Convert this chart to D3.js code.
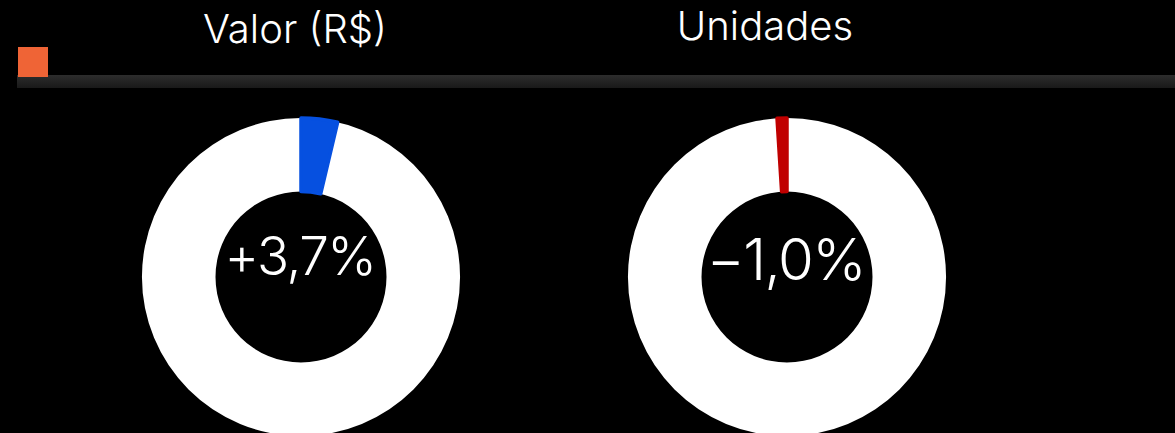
<!DOCTYPE html>
<html>
<head>
<meta charset="utf-8">
<script src="https://cdn.jsdelivr.net/npm/d3@7"></script>
<style>
  html, body { margin: 0; padding: 0; background: #000; overflow: hidden; }
  svg { display: block; }
  .title { font-family: Inter, "Open Sans", sans-serif; font-weight: 300; fill: #fff; }
  .value { font-family: Inter, "Open Sans", sans-serif; font-weight: 300; fill: #fff; letter-spacing: -1.5px; }
</style>
</head>
<body>
<script>
//chart data
var titles = ["Valor (R$)", "Unidades"];
var values = [3.7, -1.0];            //variation in percent
var labels = ["+3,7%", "\u22121,0%"];
var sliceColors = ["#0650e0", "#c00000"];

window.onload = function() {
  var w = 1175,
      h = 433;

  var svg = d3.select("body")
    .append("svg")
    .attr("width", w)
    .attr("height", h)
    .attr("class", "container");

  //vertical gradient for the grey header bar
  var grad = svg.append("defs").append("linearGradient")
    .attr("id", "barGrad")
    .attr("x1", 0).attr("y1", 0).attr("x2", 0).attr("y2", 1);
  grad.append("stop").attr("offset", "0%").attr("stop-color", "#2d2d2d");
  grad.append("stop").attr("offset", "100%").attr("stop-color", "#191919");

  svg.append("rect")
    .attr("x", 17).attr("y", 75)
    .attr("width", w - 17).attr("height", 13)
    .attr("fill", "url(#barGrad)");

  //orange marker
  svg.append("rect")
    .attr("x", 18).attr("y", 47)
    .attr("width", 30).attr("height", 30)
    .attr("fill", "#ef6436");

  //positions of each donut
  var cx = d3.scaleOrdinal().domain(titles).range([301, 787]);
  var titleX = d3.scaleOrdinal().domain(titles).range([295, 765]);
  var titleY = d3.scaleOrdinal().domain(titles).range([43, 40]);
  var labelSize = d3.scaleOrdinal().domain(titles).range([53, 58]);
  var labelY = d3.scaleOrdinal().domain(titles).range([275, 280]);
  var cy = 277;

  //percent -> angle
  var angle = d3.scaleLinear().domain([-100, 100]).range([-2 * Math.PI, 2 * Math.PI]);

  var ring = d3.arc().innerRadius(85.5).outerRadius(159);

  var data = titles.map(function(t, i) {
    return { title: t, value: values[i], label: labels[i], color: sliceColors[i] };
  });

  var g = svg.selectAll(".donut")
    .data(data)
    .enter()
    .append("g")
    .attr("class", "donut")
    .attr("transform", function(d) { return "translate(" + cx(d.title) + "," + cy + ")"; });

  //white full ring
  g.append("path")
    .attr("d", ring({ startAngle: 0, endAngle: 2 * Math.PI }))
    .attr("fill", "#fff");

  //variation slice
  g.append("path")
    .attr("d", function(d) {
      var a = angle(d.value);
      return ring({ startAngle: Math.min(0, a), endAngle: Math.max(0, a) });
    })
    .attr("fill", function(d) { return d.color; })
    .attr("stroke", function(d) { return d.color; })
    .attr("stroke-width", 3.5)
    .attr("stroke-linejoin", "round");

  //center labels
  g.append("text")
    .attr("class", "value")
    .attr("text-anchor", "middle")
    .attr("x", -1)
    .attr("y", function(d) { return labelY(d.title) - cy; })
    .style("font-size", function(d) { return labelSize(d.title) + "px"; })
    .text(function(d) { return d.label; });

  //titles
  svg.selectAll(".title")
    .data(titles)
    .enter()
    .append("text")
    .attr("class", "title")
    .attr("text-anchor", "middle")
    .attr("x", function(d) { return titleX(d); })
    .attr("y", function(d) { return titleY(d); })
    .style("font-size", "40px")
    .text(function(d) { return d; });
};
</script>
</body>
</html>
